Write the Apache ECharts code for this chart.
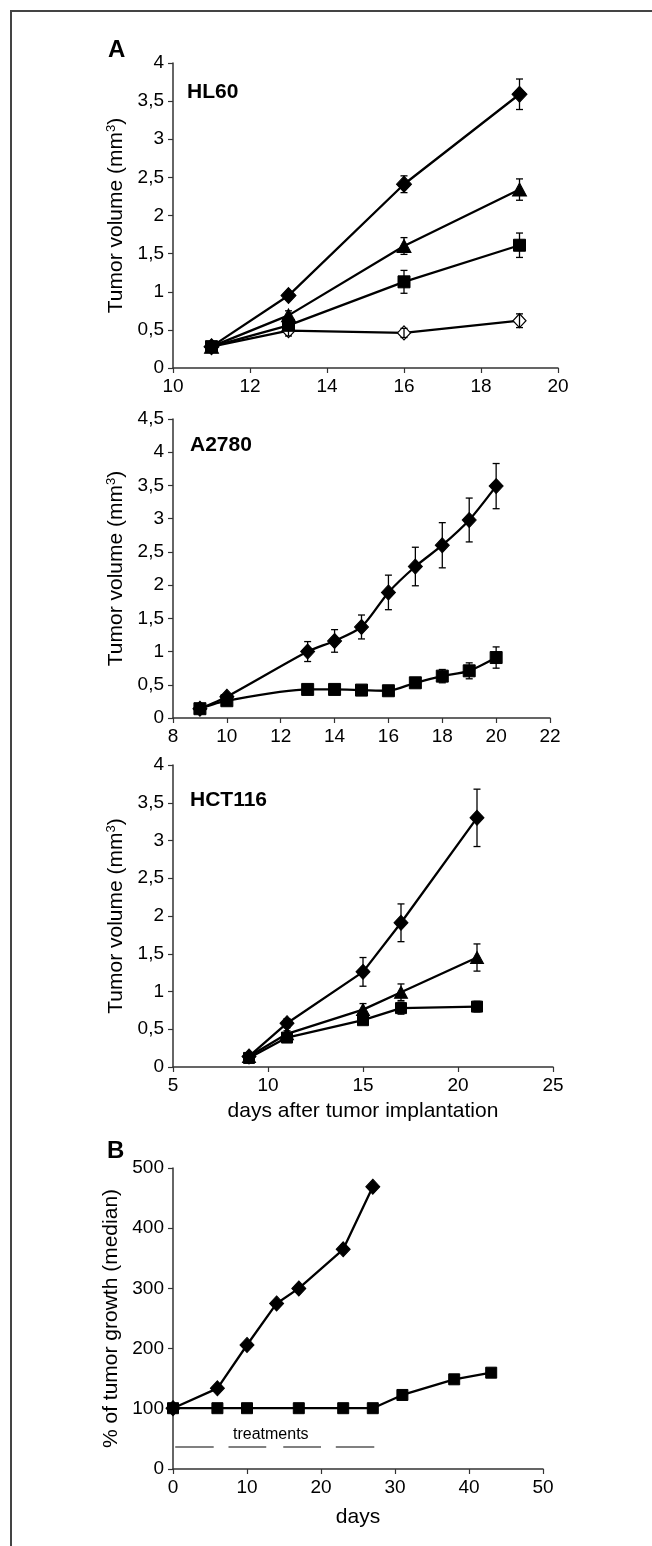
<!DOCTYPE html>
<html><head><meta charset="utf-8">
<script src="https://cdn.jsdelivr.net/npm/echarts@6/dist/echarts.min.js"></script>
<style>html,body{margin:0;padding:0;background:#fff}#c{width:652px;height:1546px}</style>
</head><body><div id="c"></div><script>
// ---- Panel A: HL60 ----
const hlDays = [11, 13, 16, 19];
const hlDiamond = [0.28, 0.95, 2.41, 3.59];
const hlDiamondErr = [0, 0.05, 0.11, 0.20];
const hlTriangle = [0.28, 0.69, 1.60, 2.34];
const hlTriangleErr = [0, 0.06, 0.11, 0.14];
const hlSquare = [0.28, 0.56, 1.13, 1.61];
const hlSquareErr = [0, 0.04, 0.15, 0.16];
const hlOpen = [0.28, 0.49, 0.46, 0.62];
const hlOpenErr = [0, 0.07, 0.06, 0.09];
// ---- Panel A: A2780 ----
const aDays = [9, 10, 13, 14, 15, 16, 17, 18, 19, 20];
const aDiamond = [0.14, 0.32, 1.00, 1.16, 1.37, 1.89, 2.28, 2.60, 2.98, 3.49];
const aDiamondErr = [0, 0, 0.15, 0.17, 0.18, 0.26, 0.29, 0.34, 0.33, 0.34];
const aSquare = [0.14, 0.26, 0.43, 0.43, 0.42, 0.41, 0.53, 0.63, 0.71, 0.91];
const aSquareErr = [0, 0, 0, 0, 0, 0, 0.06, 0.10, 0.12, 0.16];
// ---- Panel A: HCT116 ----
const hDays = [9, 11, 15, 17, 21];
const hDiamond = [0.14, 0.58, 1.26, 1.91, 3.30];
const hDiamondErr = [0.04, 0.06, 0.19, 0.25, 0.38];
const hTriangle = [0.14, 0.44, 0.76, 0.99, 1.45];
const hTriangleErr = [0, 0.04, 0.08, 0.11, 0.18];
const hSquare = [0.12, 0.39, 0.62, 0.78, 0.80];
const hSquareErr = [0, 0.03, 0.05, 0.08, 0.07];
// ---- Panel B ----
const bDiamondDays = [0, 6, 10, 14, 17, 23, 27];
const bDiamond = [101, 134, 206, 275, 300, 365, 469];
const bSquareDays = [0, 6, 10, 17, 23, 27, 31, 38, 43];
const bSquare = [101, 101, 101, 101, 101, 101, 123, 149, 160];
const treatmentPeriods = [[0.3, 5.5], [7.5, 12.6], [14.9, 20], [22, 27.2]];
const treatmentLevel = 37;
const treatmentLabel = 'treatments';
// ---- texts ----
const panelNames = ['HL60', 'A2780', 'HCT116'];
const yNameA = 'Tumor volume (mm{sup|3})';
const xNameA = 'days after tumor implantation';
const yNameB = '% of tumor growth (median)';
const xNameB = 'days';

const FONT = '"Liberation Sans", Arial, Helvetica, sans-serif';
const zip = (xs, ys) => xs.map((x, i) => [x, ys[i]]);
const zipErr = (xs, ys, es) => xs.map((x, i) => [x, ys[i], es[i]]);
const fmt = v => String(v).replace('.', ',');

const grids = [
  { left: 173, top: 63, width: 385, height: 305 },
  { left: 173, top: 419, width: 377, height: 299 },
  { left: 173, top: 765, width: 380, height: 302 },
  { left: 173, top: 1168, width: 370, height: 301 }
];
const axisCommon = {
  axisLine: { lineStyle: { color: '#333', width: 1.5 } },
  axisTick: { show: true, length: 5, lineStyle: { color: '#333', width: 1.2 } },
  splitLine: { show: false },
  axisLabel: { color: '#000', fontSize: 19, fontFamily: FONT, margin: 9 }
};
function xAxis(i, min, max, interval, name, gap) {
  return Object.assign({}, axisCommon, {
    type: 'value', gridIndex: i, min, max, interval,
    name: name || '', nameLocation: 'middle', nameGap: gap || 30,
    nameTextStyle: { color: '#000', fontSize: 21, fontFamily: FONT }
  });
}
function yAxis(i, min, max, interval, name, comma) {
  return Object.assign({}, axisCommon, {
    type: 'value', gridIndex: i, min, max, interval,
    axisLabel: Object.assign({}, axisCommon.axisLabel, { margin: 9, formatter: comma ? fmt : null }),
    name, nameLocation: 'middle', nameGap: 46,
    nameTextStyle: { color: '#000', fontSize: 21, fontFamily: FONT,
      rich: { sup: { fontSize: 13, fontFamily: FONT, color: '#000', padding: [0, 0, 9, 0] } } }
  });
}
function line(i, data, symbol, size, opts) {
  return Object.assign({
    type: 'line', xAxisIndex: i, yAxisIndex: i, data, symbol, symbolSize: size,
    lineStyle: { color: '#000', width: 2.3 },
    itemStyle: { color: '#000', borderColor: '#000', borderWidth: 1 },
    animation: false, z: 3
  }, opts || {});
}
function errBars(i, data) {
  return {
    type: 'custom', xAxisIndex: i, yAxisIndex: i, data, z: 4, animation: false,
    renderItem: (params, api) => {
      const e = api.value(2);
      if (!e) return null;
      const x = api.value(0), y = api.value(1);
      const top = api.coord([x, y + e]), bot = api.coord([x, y - e]);
      const c = 3.5;
      const st = { stroke: '#000', lineWidth: 1.3 };
      return { type: 'group', children: [
        { type: 'line', shape: { x1: top[0], y1: top[1], x2: bot[0], y2: bot[1] }, style: st },
        { type: 'line', shape: { x1: top[0] - c, y1: top[1], x2: top[0] + c, y2: top[1] }, style: st },
        { type: 'line', shape: { x1: bot[0] - c, y1: bot[1], x2: bot[0] + c, y2: bot[1] }, style: st }
      ] };
    }
  };
}

const series = [
  // HL60
  errBars(0, zipErr(hlDays, hlDiamond, hlDiamondErr)),
  errBars(0, zipErr(hlDays, hlTriangle, hlTriangleErr)),
  errBars(0, zipErr(hlDays, hlSquare, hlSquareErr)),
  errBars(0, zipErr(hlDays, hlOpen, hlOpenErr)),
  line(0, zip(hlDays, hlOpen), 'diamond', [13, 14], { itemStyle: { color: '#fff', borderColor: '#000', borderWidth: 1.2 } }),
  line(0, zip(hlDays, hlSquare), 'rect', 12),
  line(0, zip(hlDays, hlTriangle), 'triangle', [14, 13]),
  line(0, zip(hlDays, hlDiamond), 'diamond', [15, 16]),
  // A2780
  errBars(1, zipErr(aDays, aDiamond, aDiamondErr)),
  errBars(1, zipErr(aDays, aSquare, aSquareErr)),
  line(1, zip(aDays, aSquare), 'rect', 12, { smooth: 0.25 }),
  line(1, zip(aDays, aDiamond), 'diamond', [14, 15], { smooth: 0.25 }),
  // HCT116
  errBars(2, zipErr(hDays, hDiamond, hDiamondErr)),
  errBars(2, zipErr(hDays, hTriangle, hTriangleErr)),
  errBars(2, zipErr(hDays, hSquare, hSquareErr)),
  line(2, zip(hDays, hSquare), 'rect', 11),
  line(2, zip(hDays, hTriangle), 'triangle', [13, 12]),
  line(2, zip(hDays, hDiamond), 'diamond', [14, 15]),
  // B
  line(3, zip(bSquareDays, bSquare), 'rect', 11, {
    markLine: {
      silent: true, symbol: 'none', animation: false,
      lineStyle: { color: '#808080', width: 2, type: 'solid' },
      label: { show: false },
      data: treatmentPeriods.map(p => [{ coord: [p[0], treatmentLevel] }, { coord: [p[1], treatmentLevel] }])
    }
  }),
  line(3, zip(bDiamondDays, bDiamond), 'diamond', [14, 15])
];

const chart = echarts.init(document.getElementById('c'), null, { renderer: 'canvas' });
chart.setOption({
  backgroundColor: '#fff',
  animation: false,
  grid: grids,
  xAxis: [
    xAxis(0, 10, 20, 2),
    xAxis(1, 8, 22, 2),
    xAxis(2, 5, 25, 5, xNameA, 34),
    xAxis(3, 0, 50, 10, xNameB, 38)
  ],
  yAxis: [
    yAxis(0, 0, 4, 0.5, yNameA, true),
    yAxis(1, 0, 4.5, 0.5, yNameA, true),
    yAxis(2, 0, 4, 0.5, yNameA, true),
    yAxis(3, 0, 500, 100, yNameB, false)
  ],
  series,
  graphic: [
    { type: 'line', shape: { x1: 10, y1: 11, x2: 652, y2: 11 }, style: { stroke: '#444', lineWidth: 2 } },
    { type: 'line', shape: { x1: 11, y1: 11, x2: 11, y2: 1546 }, style: { stroke: '#444', lineWidth: 2 } },
    { type: 'text', left: 108, top: 38, style: { text: 'A', font: 'bold 24px ' + FONT, fill: '#000' } },
    { type: 'text', left: 107, top: 1139, style: { text: 'B', font: 'bold 24px ' + FONT, fill: '#000' } },
    { type: 'text', left: 187, top: 82, style: { text: panelNames[0], font: 'bold 21px ' + FONT, fill: '#000' } },
    { type: 'text', left: 190, top: 435, style: { text: panelNames[1], font: 'bold 21px ' + FONT, fill: '#000' } },
    { type: 'text', left: 190, top: 790, style: { text: panelNames[2], font: 'bold 21px ' + FONT, fill: '#000' } },
    { type: 'text', left: 233, top: 1427, style: { text: treatmentLabel, font: '16px ' + FONT, fill: '#000' } }
  ]
});
</script></body></html>
